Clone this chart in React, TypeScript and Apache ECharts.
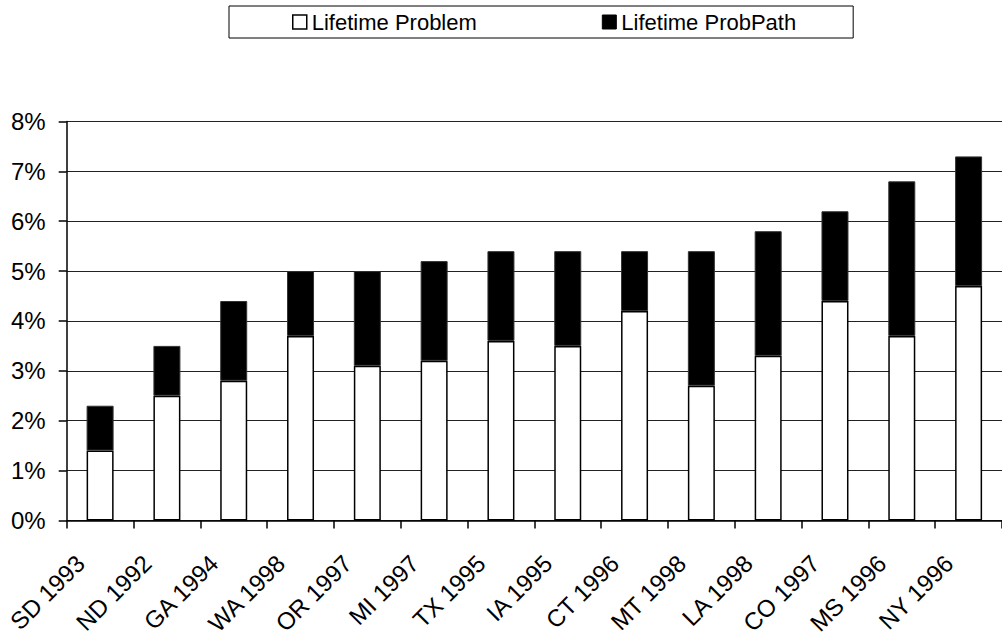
import React, { useEffect, useRef } from "react";
import * as echarts from "echarts";

const categories = [
  "SD 1993", "ND 1992", "GA 1994", "WA 1998", "OR 1997", "MI 1997", "TX 1995",
  "IA 1995", "CT 1996", "MT 1998", "LA 1998", "CO 1997", "MS 1996", "NY 1996",
];
const lifetimeProblem = [1.4, 2.5, 2.8, 3.7, 3.1, 3.2, 3.6, 3.5, 4.2, 2.7, 3.3, 4.4, 3.7, 4.7];
const lifetimeProbPath = [0.9, 1.0, 1.6, 1.3, 1.9, 2.0, 1.8, 1.9, 1.2, 2.7, 2.5, 1.8, 3.1, 2.6];
const yTicks = { min: 0, max: 8, interval: 1 };

const FONT = "'Liberation Sans', Arial, sans-serif";

export default function App() {
  const ref = useRef<HTMLDivElement>(null);
  useEffect(() => {
    if (!ref.current) return;
    const chart = echarts.init(ref.current, undefined, { renderer: "svg" });
    chart.setOption({
      animation: false,
      backgroundColor: "#fff",
      textStyle: { fontFamily: FONT, color: "#000" },
      legend: {
        left: 229,
        top: 6,
        orient: "horizontal",
        padding: [5, 57, 5, 63],
        itemGap: 125,
        itemWidth: 14,
        itemHeight: 14,
        borderColor: "#000",
        borderWidth: 1,
        icon: "rect",
        textStyle: { fontSize: 22, color: "#000", fontFamily: FONT },
        data: [
          { name: "Lifetime Problem", itemStyle: { color: "#fff", borderColor: "#000", borderWidth: 1.5 } },
          { name: "Lifetime ProbPath", itemStyle: { color: "#000", borderColor: "#000", borderWidth: 1 } },
        ],
      },
      grid: { left: 66.7, top: 121.5, width: 945, height: 404.2, containLabel: false },
      xAxis: {
        type: "category",
        data: categories,
        axisLine: { lineStyle: { color: "#000", width: 1.5 } },
        axisTick: { show: true, length: 8, lineStyle: { color: "#000", width: 1.5 } },
        axisLabel: {
          rotate: 45,
          interval: 0,
          margin: 19,
          padding: [0, 28, 0, 0],
          fontSize: 24,
          color: "#000",
          fontFamily: FONT,
        },
      },
      yAxis: {
        type: "value",
        min: yTicks.min,
        max: yTicks.max,
        interval: yTicks.interval,
        axisLine: { show: true, lineStyle: { color: "#000", width: 1.5 } },
        axisTick: { show: true, length: 8, lineStyle: { color: "#000", width: 1.5 } },
        axisLabel: { formatter: "{value}%", margin: 21, fontSize: 24, color: "#000", fontFamily: FONT },
        splitLine: { show: true, lineStyle: { color: "#222", width: 1 } },
      },
      series: [
        {
          name: "Lifetime Problem",
          type: "bar",
          stack: "total",
          barWidth: 27,
          data: lifetimeProblem,
          itemStyle: { color: "#fff", borderColor: "#000", borderWidth: 1.5 },
        },
        {
          name: "Lifetime ProbPath",
          type: "bar",
          stack: "total",
          barWidth: 27,
          data: lifetimeProbPath,
          itemStyle: { color: "#000", borderColor: "#333", borderWidth: 1 },
        },
      ],
    });
    return () => chart.dispose();
  }, []);
  return (
    <div
      ref={ref}
      style={{ position: "fixed", left: 0, top: 0, width: 1002, height: 639, background: "#fff" }}
    />
  );
}
